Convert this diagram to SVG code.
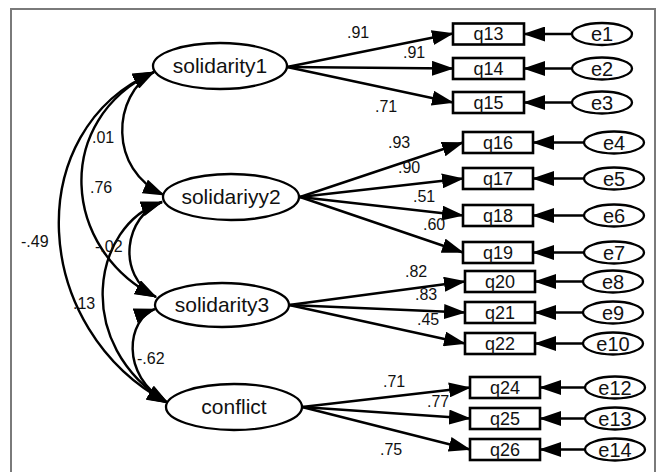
<svg xmlns="http://www.w3.org/2000/svg" width="659" height="472" viewBox="0 0 659 472">
<style>
.lat{fill:#fff;stroke:#000;stroke-width:2.3}
.err{fill:#fff;stroke:#000;stroke-width:2.3}
.box{fill:#fff;stroke:#000;stroke-width:2.6}
.ln{fill:none;stroke:#000;stroke-width:2.4}
.lt{font-family:"Liberation Sans",Arial,sans-serif;font-size:21px;text-anchor:middle;fill:#111}
.bt{font-family:"Liberation Sans",Arial,sans-serif;font-size:18px;text-anchor:middle;fill:#111}
.et{font-family:"Liberation Sans",Arial,sans-serif;font-size:20px;text-anchor:middle;fill:#111}
.wt{font-family:"Liberation Sans",Arial,sans-serif;font-size:16px;fill:#111}
</style>
<defs>
<marker id="ah" markerUnits="userSpaceOnUse" markerWidth="22" markerHeight="15" refX="21" refY="7.5" orient="auto-start-reverse" viewBox="0 0 22 15"><path d="M0,0 L22,7.5 L0,15 z" fill="#000"/></marker>
</defs>
<rect x="0" y="0" width="659" height="472" fill="#fff"/>
<rect x="11" y="9" width="644" height="475" fill="none" stroke="#7a7a7a" stroke-width="2"/>
<g id="connectors">
<path class="ln" marker-end="url(#ah)" d="M287,67 L453,33.5"/>
<path class="ln" marker-end="url(#ah)" d="M287,67 L453,68.5"/>
<path class="ln" marker-end="url(#ah)" d="M287,67 L453,102.5"/>
<path class="ln" marker-end="url(#ah)" d="M300,197 L463,142.5"/>
<path class="ln" marker-end="url(#ah)" d="M300,197 L463,178.5"/>
<path class="ln" marker-end="url(#ah)" d="M300,197 L463,215.5"/>
<path class="ln" marker-end="url(#ah)" d="M300,197 L463,252.5"/>
<path class="ln" marker-end="url(#ah)" d="M289,305 L465,281.5"/>
<path class="ln" marker-end="url(#ah)" d="M289,305 L465,312.5"/>
<path class="ln" marker-end="url(#ah)" d="M289,305 L465,343.5"/>
<path class="ln" marker-end="url(#ah)" d="M302,407 L470,387.5"/>
<path class="ln" marker-end="url(#ah)" d="M302,407 L470,418.5"/>
<path class="ln" marker-end="url(#ah)" d="M302,407 L470,449.5"/>
<path class="ln" marker-end="url(#ah)" d="M572,34 L524,34"/>
<path class="ln" marker-end="url(#ah)" d="M572,68.5 L524,68.5"/>
<path class="ln" marker-end="url(#ah)" d="M572,102.5 L524,102.5"/>
<path class="ln" marker-end="url(#ah)" d="M584,142.5 L533,142.5"/>
<path class="ln" marker-end="url(#ah)" d="M584,178.5 L533,178.5"/>
<path class="ln" marker-end="url(#ah)" d="M584,215.5 L533,215.5"/>
<path class="ln" marker-end="url(#ah)" d="M584,252.5 L533,252.5"/>
<path class="ln" marker-end="url(#ah)" d="M583,281.5 L535,281.5"/>
<path class="ln" marker-end="url(#ah)" d="M583,312.5 L535,312.5"/>
<path class="ln" marker-end="url(#ah)" d="M583,343.5 L535,343.5"/>
<path class="ln" marker-end="url(#ah)" d="M585,387.5 L540,387.5"/>
<path class="ln" marker-end="url(#ah)" d="M585,418.5 L540,418.5"/>
<path class="ln" marker-end="url(#ah)" d="M585,449.5 L540,449.5"/>
<path class="ln" marker-start="url(#ah)" marker-end="url(#ah)" d="M154,72 C112,95 108,170 164,195"/>
<path class="ln" marker-start="url(#ah)" marker-end="url(#ah)" d="M154,72 C52,120 62,250 156,297"/>
<path class="ln" marker-start="url(#ah)" marker-end="url(#ah)" d="M154,72 C20,130 30,330 168,403"/>
<path class="ln" marker-start="url(#ah)" marker-end="url(#ah)" d="M162,202 C125,215 115,275 156,297"/>
<path class="ln" marker-start="url(#ah)" marker-end="url(#ah)" d="M162,202 C92,225 72,345 168,403"/>
<path class="ln" marker-start="url(#ah)" marker-end="url(#ah)" d="M155,309 C128,318 118,375 168,403"/>
</g>
<g id="labels">
<text class="wt" x="347" y="38">.91</text>
<text class="wt" x="403" y="58">.91</text>
<text class="wt" x="375" y="112">.71</text>
<text class="wt" x="388" y="148">.93</text>
<text class="wt" x="398" y="173">.90</text>
<text class="wt" x="413" y="202">.51</text>
<text class="wt" x="423" y="230">.60</text>
<text class="wt" x="405" y="277">.82</text>
<text class="wt" x="415" y="300">.83</text>
<text class="wt" x="417" y="325">.45</text>
<text class="wt" x="383" y="387">.71</text>
<text class="wt" x="427" y="407">.77</text>
<text class="wt" x="380" y="455">.75</text>
<text class="wt" x="92" y="143">.01</text>
<text class="wt" x="90" y="193">.76</text>
<text class="wt" x="21" y="247">-.49</text>
<text class="wt" x="95" y="252">-.02</text>
<text class="wt" x="73" y="309">.13</text>
<text class="wt" x="137" y="364">-.62</text>
</g>
<g id="solidarity1"><ellipse class="lat" cx="220" cy="66" rx="67" ry="23"/><text class="lt" x="220" y="73">solidarity1</text></g>
<g id="solidariyy2"><ellipse class="lat" cx="231" cy="197" rx="68" ry="23"/><text class="lt" x="231" y="204">solidariyy2</text></g>
<g id="solidarity3"><ellipse class="lat" cx="222" cy="305" rx="67" ry="22"/><text class="lt" x="222" y="312">solidarity3</text></g>
<g id="conflict"><ellipse class="lat" cx="234" cy="407" rx="68" ry="23"/><text class="lt" x="234" y="414">conflict</text></g>
<g id="q13"><rect class="box" x="453" y="23.5" width="71" height="21"/><text class="bt" x="488.5" y="40">q13</text></g>
<g id="q14"><rect class="box" x="453" y="58" width="71" height="21"/><text class="bt" x="488.5" y="74.5">q14</text></g>
<g id="q15"><rect class="box" x="453" y="92" width="71" height="21"/><text class="bt" x="488.5" y="108.5">q15</text></g>
<g id="q16"><rect class="box" x="463" y="132" width="70" height="21"/><text class="bt" x="498" y="148.5">q16</text></g>
<g id="q17"><rect class="box" x="463" y="168" width="70" height="21"/><text class="bt" x="498" y="184.5">q17</text></g>
<g id="q18"><rect class="box" x="463" y="205" width="70" height="21"/><text class="bt" x="498" y="221.5">q18</text></g>
<g id="q19"><rect class="box" x="463" y="242" width="70" height="21"/><text class="bt" x="498" y="258.5">q19</text></g>
<g id="q20"><rect class="box" x="465" y="271" width="70" height="21"/><text class="bt" x="500" y="287.5">q20</text></g>
<g id="q21"><rect class="box" x="465" y="302" width="70" height="21"/><text class="bt" x="500" y="318.5">q21</text></g>
<g id="q22"><rect class="box" x="465" y="333" width="70" height="21"/><text class="bt" x="500" y="349.5">q22</text></g>
<g id="q24"><rect class="box" x="470" y="377" width="70" height="21"/><text class="bt" x="505" y="393.5">q24</text></g>
<g id="q25"><rect class="box" x="470" y="408" width="70" height="21"/><text class="bt" x="505" y="424.5">q25</text></g>
<g id="q26"><rect class="box" x="470" y="439" width="70" height="21"/><text class="bt" x="505" y="455.5">q26</text></g>
<g id="e1"><ellipse class="err" cx="602" cy="34" rx="30" ry="11"/><text class="et" x="602" y="41">e1</text></g>
<g id="e2"><ellipse class="err" cx="602" cy="68.5" rx="30" ry="11"/><text class="et" x="602" y="75.5">e2</text></g>
<g id="e3"><ellipse class="err" cx="602" cy="102.5" rx="30" ry="11"/><text class="et" x="602" y="109.5">e3</text></g>
<g id="e4"><ellipse class="err" cx="614" cy="142.5" rx="30" ry="11"/><text class="et" x="614" y="149.5">e4</text></g>
<g id="e5"><ellipse class="err" cx="614" cy="178.5" rx="30" ry="11"/><text class="et" x="614" y="185.5">e5</text></g>
<g id="e6"><ellipse class="err" cx="614" cy="215.5" rx="30" ry="11"/><text class="et" x="614" y="222.5">e6</text></g>
<g id="e7"><ellipse class="err" cx="614" cy="252.5" rx="30" ry="11"/><text class="et" x="614" y="259.5">e7</text></g>
<g id="e8"><ellipse class="err" cx="613" cy="281.5" rx="30" ry="11"/><text class="et" x="613" y="288.5">e8</text></g>
<g id="e9"><ellipse class="err" cx="613" cy="312.5" rx="30" ry="11"/><text class="et" x="613" y="319.5">e9</text></g>
<g id="e10"><ellipse class="err" cx="613" cy="343.5" rx="30" ry="11"/><text class="et" x="613" y="350.5">e10</text></g>
<g id="e12"><ellipse class="err" cx="615" cy="387.5" rx="30" ry="11"/><text class="et" x="615" y="394.5">e12</text></g>
<g id="e13"><ellipse class="err" cx="615" cy="418.5" rx="30" ry="11"/><text class="et" x="615" y="425.5">e13</text></g>
<g id="e14"><ellipse class="err" cx="615" cy="449.5" rx="30" ry="11"/><text class="et" x="615" y="456.5">e14</text></g>
</svg>
